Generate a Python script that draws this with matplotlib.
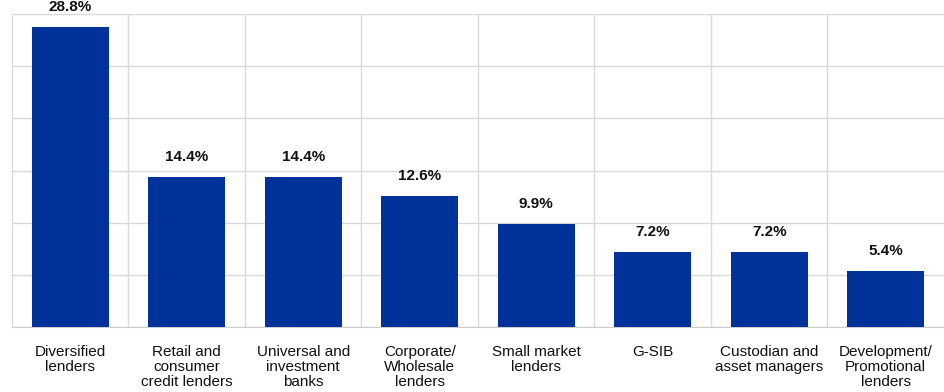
"""
Share of banks by business model, bar chart.
"""

import matplotlib.pyplot as plt
import numpy as np
from matplotlib.ticker import FixedLocator

plt.rcParams["font.family"] = ["Liberation Sans", "DejaVu Sans"]

categories = [
    "Diversified\nlenders",
    "Retail and\nconsumer\ncredit lenders",
    "Universal and\ninvestment\nbanks",
    "Corporate/\nWholesale\nlenders",
    "Small market\nlenders",
    "G-SIB",
    "Custodian and\nasset managers",
    "Development/\nPromotional\nlenders",
]

shares = [28.8, 14.4, 14.4, 12.6, 9.9, 7.2, 7.2, 5.4]

bar_color = "#003299"
grid_color = "#d9d9d9"


def main() -> None:
    fig = plt.figure(figsize=(9.44, 3.92), dpi=100)
    ax = fig.add_axes([0.0127, 0.166, 0.9873, 0.798])

    x = np.arange(len(categories))
    ax.bar(x, shares, width=0.66, color=bar_color, zorder=3)

    # Value labels above each bar
    for xi, val in zip(x, shares):
        ax.text(
            xi, val + 1.2, f"{val:.1f}%",
            ha="center", va="bottom",
            fontsize=11, fontweight="bold", color="#111111",
        )

    ax.set_xlim(-0.5, len(categories) - 0.5)
    ax.set_ylim(0, 30)
    ax.set_yticks(np.arange(0, 31, 5))
    ax.set_xticks(x)
    ax.set_xticklabels(categories, fontsize=11, color="#111111", linespacing=1.1)
    ax.xaxis.set_minor_locator(FixedLocator(x[:-1] + 0.5))

    ax.tick_params(axis="x", which="both", length=0, pad=13)
    ax.tick_params(axis="y", length=0, labelleft=False)

    ax.grid(axis="y", color=grid_color, linewidth=1, zorder=0)
    ax.grid(axis="x", which="minor", color=grid_color, linewidth=1, zorder=0)

    for side in ["top", "right"]:
        ax.spines[side].set_visible(False)
    ax.spines["left"].set_color(grid_color)
    ax.spines["bottom"].set_color("#cccccc")

    fig.savefig("out.png", dpi=100)


if __name__ == "__main__":
    main()
